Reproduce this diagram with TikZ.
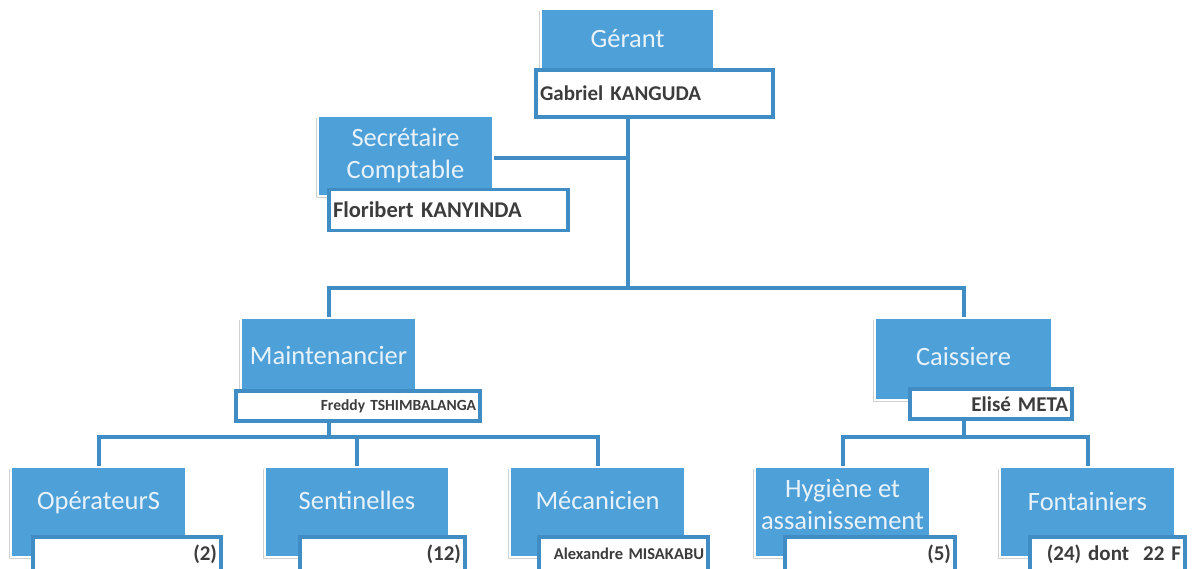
\documentclass[tikz,border=0pt]{standalone}
\usepackage{fontspec}
\setmainfont{Carlito}
\usetikzlibrary{shadows}
\definecolor{boxblue}{RGB}{78,160,216}
\definecolor{lineblue}{RGB}{64,140,196}
\definecolor{nametext}{RGB}{60,60,60}
\definecolor{titletext}{RGB}{232,242,250}
\newcommand{\twolines}[2]{\begin{tabular}{@{}c@{}}#1\\#2\end{tabular}}
\tikzset{
  bluebox/.style={rectangle, fill=boxblue, draw=white, line width=1.5pt,
    drop shadow={shadow xshift=-2pt, shadow yshift=-2pt, opacity=0.18, fill=black},
    text=titletext, font=\fontsize{26.5}{32}\selectfont, align=center, inner sep=0pt},
  namebox/.style={rectangle, fill=white, draw=lineblue, line width=3.4pt,
    text=nametext, font=\bfseries\fontsize{21}{24}\selectfont, inner xsep=4pt, inner ysep=0pt},
  conn/.style={draw=lineblue, line width=4pt},
}
\begin{document}
\begin{tikzpicture}[x=1pt,y=-1pt]
\useasboundingbox (0,0) rectangle (1198,569);
\fill[white] (0,0) rectangle (1198,569);

\coordinate (b1) at (627.5,288);
\coordinate (m1) at (328.5,437);
\coordinate (c1) at (963.5,437);
\coordinate (s1) at (627.5,158);

% Title boxes
\node[bluebox, minimum width=173pt, minimum height=62pt] (gerant) at (627.5,40) {\raisebox{4pt}{Gérant}};
\node[bluebox, minimum width=175pt, minimum height=80pt] (sec) at (405.5,156) {\raisebox{6pt}{\twolines{Secrétaire}{Comptable}}};
\node[bluebox, minimum width=175pt, minimum height=80pt] (maint) at (328.5,358) {\raisebox{6pt}{Maintenancier}};
\node[bluebox, minimum width=177pt, minimum height=82pt] (caiss) at (963.5,359) {\raisebox{6pt}{Caissiere}};
\node[bluebox, minimum width=175pt, minimum height=90pt] (op) at (98.5,512) {\raisebox{24pt}{OpérateurS}};
\node[bluebox, minimum width=184pt, minimum height=90pt] (sen) at (357,512) {\raisebox{24pt}{Sentinelles}};
\node[bluebox, minimum width=175pt, minimum height=90pt] (mec) at (597.5,512) {\raisebox{24pt}{Mécanicien}};
\node[bluebox, minimum width=175pt, minimum height=90pt] (hyg) at (842.5,512) {\raisebox{-1pt}[0pt][0pt]{\twolines{Hygiène et}{assainissement}}};
\node[bluebox, minimum width=175pt, minimum height=90pt] (font) at (1087.5,512) {\raisebox{21pt}{Fontainiers}};

% Name boxes
\node[namebox, minimum width=237pt, minimum height=47pt, text width=229pt, align=left] (gab) at (654.5,93.5) {Gabriel KANGUDA};
\node[namebox, minimum width=239pt, minimum height=41pt, text width=231pt, align=left, font=\bfseries\fontsize{22.5}{26}\selectfont] (flo) at (448.5,210) {Floribert KANYINDA};
\node[namebox, minimum width=242pt, minimum height=30pt, text width=236pt, align=right, font=\bfseries\fontsize{15.5}{18}\selectfont] (fred) at (358,406) {Freddy TSHIMBALANGA};
\node[namebox, minimum width=162pt, minimum height=30pt, text width=154pt, align=right] (elise) at (991,404) {Elisé META};
\node[namebox, minimum width=188pt, minimum height=34pt, text width=180pt, align=right] (opn) at (127,554) {(2)};
\node[namebox, minimum width=165pt, minimum height=34pt, text width=157pt, align=right] (senn) at (382.5,554) {(12)};
\node[namebox, minimum width=167pt, minimum height=34pt, text width=161pt, align=right, font=\bfseries\fontsize{16.5}{18}\selectfont] (mecn) at (623.5,554) {Alexandre MISAKABU};
\node[namebox, minimum width=170pt, minimum height=34pt, text width=162pt, align=right] (hygn) at (870,554) {(5)};
\node[namebox, minimum width=155pt, minimum height=34pt, text width=147pt, align=right, font=\bfseries\fontsize{21}{24}\selectfont] (fontn) at (1107.5,554) {(24) dont\ \ 22 F};

% Connectors
\draw[conn] (gab.south -| b1) -- (b1);
\draw[conn] (sec.east |- s1) -- (s1);
\draw[conn] (maint.north) |- (b1) -| (caiss.north);
\draw[conn] (maint.south |- fred.south) -- (m1);
\draw[conn] (op.north) |- (m1) -| (mec.north);
\draw[conn] (sen.north) -- (sen.north |- m1);
\draw[conn] (caiss.south |- elise.south) -- (c1);
\draw[conn] (hyg.north) |- (c1) -| (font.north);
\end{tikzpicture}
\end{document}
